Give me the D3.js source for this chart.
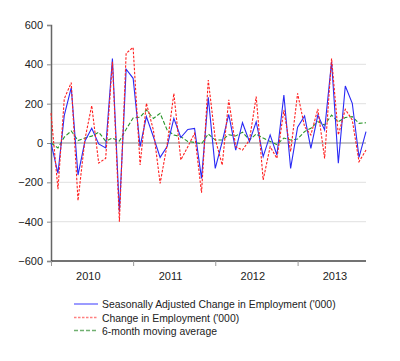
<!DOCTYPE html>
<html><head><meta charset="utf-8">
<script src="https://cdn.jsdelivr.net/npm/d3@7"></script>
<style>body{margin:0;background:#fff}svg{display:block}</style>
</head><body>
<svg id="c" width="400" height="361"></svg>
<script>
// Monthly data, Jan 2010 - Nov 2013
const startMonth = [2010, 0];
const seasonallyAdjusted = [0,-154,140,281,-163,10,75,-5,-25,430,-350,375,329,-19,134,32,-73,-18,125,28,69,74,-180,232,-129,7,145,-36,103,7,108,-69,41,-61,244,-129,80,137,-27,142,66,413,-103,290,202,-73,58];
const changeInEmployment = [152,-235,225,307,-293,20,190,-102,-78,413,-400,456,486,-112,202,66,-205,-10,252,-86,-19,49,-253,320,20,-112,220,-19,-36,15,236,-188,-19,-78,168,-44,252,83,41,173,-78,430,41,171,117,-95,-36];
const movingAverage6 = [0,-25,30,61,12,25,35,55,10,25,10,70,127,131,168,125,151,66,41,32,8,3,-4,46,15,15,42,36,55,15,46,25,8,-8,25,15,20,58,75,108,91,142,108,130,134,100,103];
const yTicks = [-600,-400,-200,0,200,400,600];
const yearLabels = ["2010","2011","2012","2013"];
const seriesNames = ["Seasonally Adjusted Change in Employment ('000)","Change in Employment ('000)","6-month moving average"];

const svg = d3.select("#c");
const L = 51, R = 366, T = 25, B = 261;
const dateOf = i => new Date(startMonth[0], startMonth[1] + i, 1);
const x = d3.scaleTime().domain([dateOf(0), dateOf(seasonallyAdjusted.length - 1)]).range([L, R]);
const y = d3.scaleLinear().domain([-600, 600]).range([B, T]);
const font = "'Liberation Sans', Arial, sans-serif";

// gridlines
svg.append("g").selectAll("line").data(yTicks.filter(v => v !== 0 && v !== 600 && v !== -600)).join("line")
  .attr("x1", L).attr("x2", R).attr("y1", d => y(d)).attr("y2", d => y(d))
  .attr("stroke", "#e6e6e6").attr("stroke-width", 1.2);
svg.append("line").attr("x1", L).attr("x2", R).attr("y1", y(0)).attr("y2", y(0))
  .attr("stroke", "#8c8c8c").attr("stroke-width", 1.2);

// y axis
const ya = svg.append("g").attr("transform", `translate(${L},0)`)
  .call(d3.axisLeft(y).tickValues(yTicks).tickSize(4).tickPadding(4).tickFormat(d3.format("d")));
ya.select(".domain").attr("stroke", "#666").attr("stroke-width", 1.5);
ya.selectAll(".tick line").attr("stroke", "#888");
ya.selectAll("text").attr("font-family", font).attr("font-size", 11).attr("fill", "#222");

// x axis
const yearStarts = yearLabels.map(yl => new Date(+yl, 0, 1));
const xa = svg.append("g").attr("transform", `translate(0,${B})`)
  .call(d3.axisBottom(x).tickValues(yearStarts).tickSize(5).tickFormat(""));
xa.select(".domain").attr("stroke", "#444").attr("stroke-width", 1.5).attr("d", `M${L},0H${R}`);
xa.selectAll(".tick line").attr("stroke", "#999");
svg.append("g").selectAll("text").data(yearLabels).join("text")
  .attr("x", d => x(new Date(+d, 5, 16))).attr("y", 280)
  .attr("text-anchor", "middle").attr("font-family", font).attr("font-size", 11).attr("fill", "#222")
  .text(d => d);

// lines
const line = d3.line().x((d, i) => x(dateOf(i))).y(d => y(d));
const styles = [
  {data: seasonallyAdjusted, color: "#2a2af5", dash: null, w: 1.1},
  {data: changeInEmployment, color: "#ff2020", dash: "2.5,1.5", w: 1.1},
  {data: movingAverage6, color: "#2a962a", dash: "4,2", w: 1.1}
];
[2,0,1].forEach(k => {
  const s = styles[k];
  svg.append("path").datum(s.data).attr("d", line).attr("fill", "none")
    .attr("stroke", s.color).attr("stroke-width", s.w)
    .attr("stroke-dasharray", s.dash);
});

// legend
const legY = [304, 317.5, 330.5];
const legendColors = ["#7a7aff", "#ff8080", "#70b070"];
seriesNames.forEach((n, i) => {
  svg.append("line").attr("x1", 74).attr("x2", 98).attr("y1", legY[i]).attr("y2", legY[i])
    .attr("stroke", legendColors[i]).attr("stroke-width", 1.5).attr("stroke-dasharray", styles[i].dash);
  svg.append("text").attr("x", 102).attr("y", legY[i] + 4).attr("font-family", font)
    .attr("font-size", 10.4).attr("fill", "#222").text(n);
});
</script>
</body></html>
